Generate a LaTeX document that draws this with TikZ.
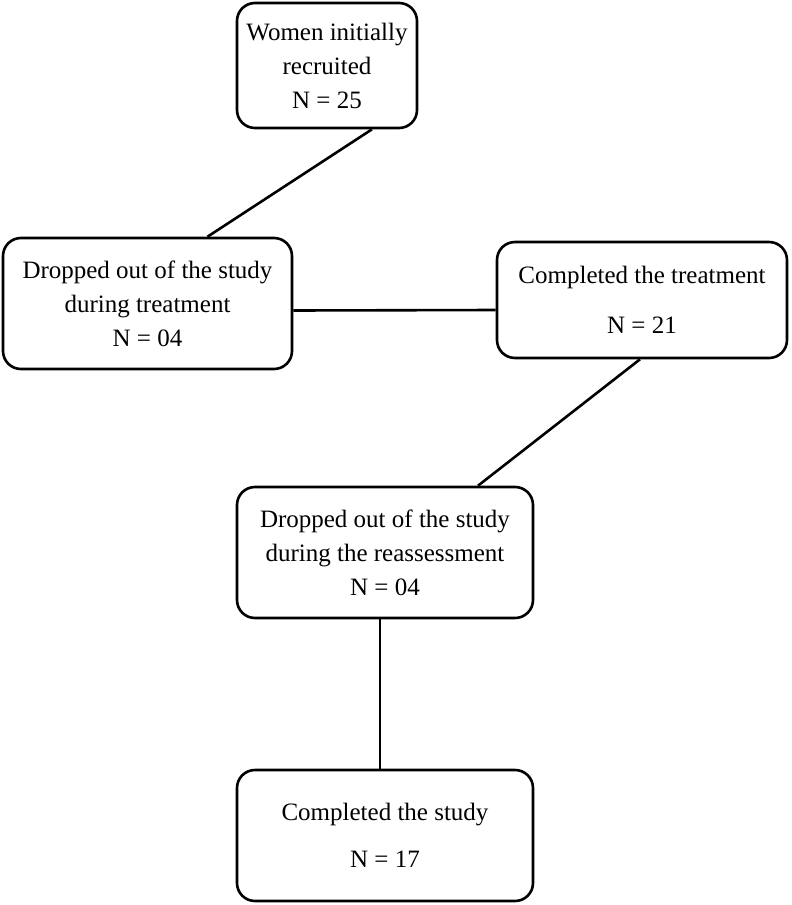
\documentclass[tikz,border=0pt]{standalone}
\usepackage{fontspec}
\setmainfont{Liberation Serif}
\tikzset{
    stage/.style={draw,line width=2.6pt,rounded corners=18pt,align=center,
        inner sep=0pt,font=\fontsize{25pt}{34pt}\selectfont},
    link/.style={line width=2.6pt}
}
\begin{document}
\begin{tikzpicture}[x=1pt,y=-1pt]
    \useasboundingbox (0,0) rectangle (792,905);
    \node [stage,minimum width=180pt,minimum height=125pt] (recruit) at (327,65.5)
        {Women initially\\recruited\\N = 25};
    \node [stage,minimum width=289pt,minimum height=131pt] (dropa) at (147.5,303.5)
        {Dropped out of the study\\during treatment\\N = 04};
    \node [stage,minimum width=290pt,minimum height=116pt] (treated) at (642,300)
        {Completed the treatment\\[16pt]N = 21};
    \node [stage,minimum width=296pt,minimum height=131pt] (dropb) at (385,552.5)
        {Dropped out of the study\\during the reassessment\\N = 04};
    \node [stage,minimum width=296pt,minimum height=131pt] (study) at (385,835.5)
        {Completed the study\\[13pt]N = 17};
    % connectors
    \draw [link] ([xshift=45pt]recruit.south) -- ([xshift=60pt]dropa.north);
    \draw [link] ([yshift=-7pt]dropa.east) -- ([yshift=-10pt]treated.west);
    \draw [link] ([xshift=-2pt]treated.south) -- ([xshift=93pt]dropb.north);
    \draw [link] ([xshift=-5pt]dropb.south) -- ([xshift=-5pt]study.north);
\end{tikzpicture}
\end{document}
